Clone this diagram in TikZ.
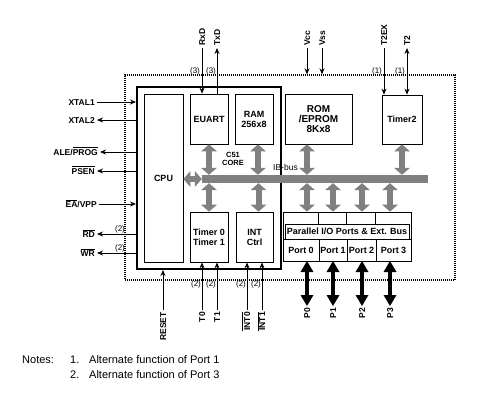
\documentclass[tikz,border=0pt]{standalone}
\usepackage{fontspec}
\setmainfont{Liberation Sans}
\usetikzlibrary{arrows.meta}
\newcommand{\ovl}[1]{$\overline{\mbox{#1}}$}

\begin{document}
\begin{tikzpicture}[x=1pt,y=-1pt]
	\tikzstyle{blk}=[draw, line width=0.8pt, inner sep=0pt, align=center, font=\bfseries\fontsize{9}{10}\selectfont]
	\tikzstyle{lab}=[inner sep=2pt, text height=7pt, text depth=1pt, font=\bfseries\fontsize{8.5}{10}\selectfont]
	\tikzstyle{vlab}=[lab, rotate=90]
	\tikzstyle{num}=[inner sep=0pt, font=\fontsize{8}{9}\selectfont]
	\tikzstyle{note}=[inner sep=0pt, anchor=base west, font=\fontsize{11}{13}\selectfont]
	\tikzstyle{sig}=[line width=0.8pt, -{Stealth[length=6pt,width=5pt]}]
	\tikzstyle{sigboth}=[line width=0.8pt, {Stealth[length=6pt,width=5pt]}-{Stealth[length=6pt,width=5pt]}]
	\tikzstyle{gbus}=[gray, line width=6pt, {Triangle[length=7pt,width=16pt,line width=0pt]}-{Triangle[length=7pt,width=16pt,line width=0pt]}]
	\tikzstyle{pbus}=[line width=4pt, {Triangle[length=11pt,width=13pt,line width=0pt]}-{Triangle[length=11pt,width=13pt,line width=0pt]}]

	\useasboundingbox (0,0) rectangle (487,400);

	% chip outline and C51 core
	\node[draw, dash pattern=on 1pt off 1pt, line width=1.4pt, minimum width=330pt, minimum height=205pt] (chip) at (290,177.5) {};
	\node[draw, line width=2pt, minimum width=144pt, minimum height=182pt] (core) at (209,178) {};

	\node[blk, minimum width=39pt, minimum height=168pt] (cpu) at (163.5,178) {CPU};
	\node[blk, minimum width=38pt, minimum height=50pt] (euart) at (209,119) {EUART};
	\node[blk, minimum width=38pt, minimum height=50pt] (ram) at (254,119) {RAM\\256x8};
	\node[blk, minimum width=67pt, minimum height=50pt, font=\bfseries\fontsize{10}{10}\selectfont] (rom) at (318.5,119) {ROM\\/EPROM\\8Kx8};
	\node[blk, minimum width=40pt, minimum height=49pt] (timer2) at (402,119.5) {Timer2};
	\node[blk, minimum width=38pt, minimum height=50pt] (tmr) at (209,237) {Timer 0\\Timer 1};
	\node[blk, minimum width=37pt, minimum height=50pt] (intc) at (254.5,237) {INT\\Ctrl};

	% parallel ports
	\node[blk, minimum width=128pt, minimum height=49pt] (pio) at (347,236.5) {};
	\node[blk, minimum width=124pt, minimum height=15pt] (pband) at (347,231.5) {Parallel I/O Ports \& Ext. Bus};
	\node[blk, minimum width=36pt, minimum height=22pt] (port0) at (301,250) {Port 0};
	\node[blk, minimum width=28pt, minimum height=22pt] (port1) at (333,250) {Port 1};
	\node[blk, minimum width=29pt, minimum height=22pt] (port2) at (361.5,250) {Port 2};
	\node[blk, minimum width=35pt, minimum height=22pt] (port3) at (393.5,250) {Port 3};
	\foreach \p in {port1,port2,port3}
		\draw[line width=0.8pt] (\p.north west |- pband.north) -- (\p.north west |- pio.north);

	% internal bus
	\node[fill=gray, inner sep=0pt, minimum width=226pt, minimum height=8pt] (ibbus) at (315,179) {};
	\node[anchor=south west, inner sep=0pt, font=\fontsize{8.5}{10}\selectfont] (iblab) at (273,171) {IB-bus};
	\node[align=center, inner sep=0pt, font=\bfseries\fontsize{7.5}{8}\selectfont] (c51) at (233,159) {C51\\CORE};

	\foreach \i/\x in {0/307,1/333,2/362,3/390} {
		\coordinate (pin\i) at (\x,261);
		\node[vlab, anchor=east] (P\i) at (\x,306) {P\i};
		\draw[pbus] (pin\i) -- (P\i);
		\draw[gbus] (pin\i |- pio.north) -- (pin\i |- ibbus.south);
	}
	\draw[gbus] (cpu.east |- ibbus) -- (ibbus.west);
	\draw[gbus] (euart.south) -- (euart.south |- ibbus.north);
	\draw[gbus] (tmr.north) -- (tmr.north |- ibbus.south);
	\draw[gbus] ([xshift=4pt]ram.south) -- ([xshift=4pt]ram.south |- ibbus.north);
	\draw[gbus] ([xshift=4pt]intc.north) -- ([xshift=4pt]intc.north |- ibbus.south);
	\draw[gbus] (pin0 |- rom.south) -- (pin0 |- ibbus.north);
	\draw[gbus] (timer2.south) -- (timer2.south |- ibbus.north);

	% left pins
	\node[lab, anchor=east] (xtal1) at (97,102) {XTAL1};
	\node[lab, anchor=east] (xtal2) at (97,120) {XTAL2};
	\node[lab, anchor=east] (ale) at (100,152) {ALE/\ovl{PROG}};
	\node[lab, anchor=east] (psen) at (97,171) {\ovl{PSEN}};
	\node[lab, anchor=east] (ea) at (99,204) {\ovl{EA}/VPP};
	\node[lab, anchor=east] (rd) at (97,234) {\ovl{RD}};
	\node[lab, anchor=east] (wr) at (97,253) {\ovl{WR}};
	\draw[sig] (xtal1) -- (xtal1 -| core.west);
	\draw[sig] (xtal2 -| core.west) -- (xtal2);
	\draw[sig] (ale -| core.west) -- (ale);
	\draw[sig] (psen -| core.west) -- (psen);
	\draw[sig] (ea) -- (ea -| core.west);
	\draw[sig] (rd -| core.west) -- (rd);
	\draw[sig] (wr -| core.west) -- (wr);
	\node[num] (nrd) at (120,229) {(2)};
	\node[num] (nwr) at (120,248) {(2)};

	% top pins
	\node[vlab, anchor=west] (rxd) at (202,48) {RxD};
	\node[vlab, anchor=west] (txd) at (217,48) {TxD};
	\node[vlab, anchor=west] (vcc) at (307,48) {Vcc};
	\node[vlab, anchor=west] (vss) at (322,48) {Vss};
	\node[vlab, anchor=west] (t2ex) at (384,48) {T2EX};
	\node[vlab, anchor=west] (t2) at (407,48) {T2};
	\draw[sig] (rxd) -- (rxd |- euart.north);
	\draw[sig] (txd |- euart.north) -- (txd);
	\draw[sig] (vcc) -- (vcc |- chip.north);
	\draw[sig] (vss) -- (vss |- chip.north);
	\draw[sig] (t2ex) -- (t2ex |- timer2.north);
	\draw[sigboth] (t2) -- (t2 |- timer2.north);
	\node[num] (nrxd) at (195,71) {(3)};
	\node[num] (ntxd) at (211,71) {(3)};
	\node[num] (nt2ex) at (377,71) {(1)};
	\node[num] (nt2) at (400,71) {(1)};

	% bottom pins
	\node[vlab, anchor=east] (reset) at (163,310) {RESET};
	\node[vlab, anchor=east] (t0) at (202,310) {T0};
	\node[vlab, anchor=east] (t1) at (217,310) {T1};
	\node[vlab, anchor=east] (int0) at (247,310) {\ovl{INT0}};
	\node[vlab, anchor=east] (int1) at (262,310) {\ovl{INT1}};
	\draw[sig] (reset) -- (reset |- core.south);
	\draw[sig] (t0) -- (t0 |- tmr.south);
	\draw[sig] (t1) -- (t1 |- tmr.south);
	\draw[sig] (int0) -- (int0 |- intc.south);
	\draw[sig] (int1) -- (int1 |- intc.south);
	\node[num] (nt0) at (196,284) {(2)};
	\node[num] (nt1) at (211,284) {(2)};
	\node[num] (nint0) at (241,284) {(2)};
	\node[num] (nint1) at (256,284) {(2)};

	% notes
	\node[note] (notes) at (22,363) {Notes:};
	\node[note] (num1) at (70,363) {1.};
	\node[note] (note1) at (89,363) {Alternate function of Port 1};
	\node[note] (num2) at (70,378) {2.};
	\node[note] (note2) at (89,378) {Alternate function of Port 3};
\end{tikzpicture}
\end{document}
